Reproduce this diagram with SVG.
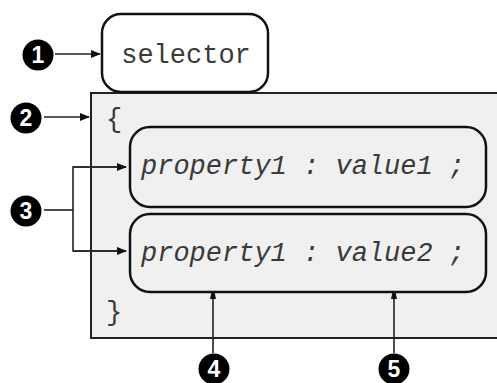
<svg xmlns="http://www.w3.org/2000/svg" width="497" height="383" viewBox="0 0 497 383">
<style>
.code{font-family:"Liberation Mono","Courier New",monospace;font-size:27px;fill:#3a3a3a}
.it{font-style:italic}
.box{fill:#f0f0f0;stroke:#111;stroke-width:2.5}
.call{fill:#000}
.num{font-family:"Liberation Sans",Arial,sans-serif;font-weight:bold;font-size:23px;fill:#fff;text-anchor:middle}
.ln{stroke:#222;stroke-width:1.6;fill:none}
</style>
<defs>
<marker id="ah" markerWidth="10" markerHeight="8" refX="9" refY="4" orient="auto" markerUnits="userSpaceOnUse">
<path d="M0,0 L10,4 L0,8 Z" fill="#111"/>
</marker>
<marker id="ahs" markerWidth="8" markerHeight="8" refX="7" refY="4" orient="auto" markerUnits="userSpaceOnUse">
<path d="M0,1 L7,2.5 L7,5.5 L0,7 Z" fill="#111"/>
</marker>
</defs>
<g id="rule">
<rect x="91" y="93" width="420" height="245" fill="#f0f0f0" stroke="#222" stroke-width="2"/>
<text class="code" x="106" y="127">{</text>
<text class="code" x="106" y="320">}</text>
</g>
<g id="selector">
<rect class="box" x="102" y="14" width="166" height="78" rx="19" style="fill:#fff"/>
<text class="code" x="186" y="63" text-anchor="middle">selector</text>
</g>
<g id="decl1">
<rect class="box" x="130" y="127" width="356" height="80" rx="20"/>
<text class="code it" x="141" y="174">property1 : value1 ;</text>
</g>
<g id="decl2">
<rect class="box" x="130" y="214" width="356" height="78" rx="20"/>
<text class="code it" x="141" y="261">property1 : value2 ;</text>
</g>
<g id="callout1"><circle class="call" cx="38" cy="55" r="15.5"/><text class="num" x="38" y="63">1</text></g>
<g id="callout2"><circle class="call" cx="26" cy="118" r="15.5"/><text class="num" x="26" y="126">2</text></g>
<g id="callout3"><circle class="call" cx="26" cy="211" r="15.5"/><text class="num" x="26" y="219">3</text></g>
<g id="callout4"><circle class="call" cx="214" cy="369" r="15.5"/><text class="num" x="214" y="377">4</text></g>
<g id="callout5"><circle class="call" cx="394" cy="369" r="15.5"/><text class="num" x="394" y="377">5</text></g>
<g id="connectors">
<line class="ln" x1="55" y1="54" x2="100" y2="54" marker-end="url(#ah)"/>
<line class="ln" x1="44" y1="117" x2="89" y2="117" marker-end="url(#ah)"/>
<line class="ln" x1="44" y1="210" x2="73" y2="210"/>
<polyline class="ln" points="126,167 73,167 73,251 126,251"/>
<line class="ln" x1="73" y1="167" x2="126" y2="167" marker-end="url(#ah)"/>
<line class="ln" x1="73" y1="251" x2="126" y2="251" marker-end="url(#ah)"/>
<line class="ln" x1="213" y1="353" x2="213" y2="292" marker-end="url(#ahs)"/>
<line class="ln" x1="394" y1="353" x2="394" y2="292" marker-end="url(#ahs)"/>
</g>
</svg>
